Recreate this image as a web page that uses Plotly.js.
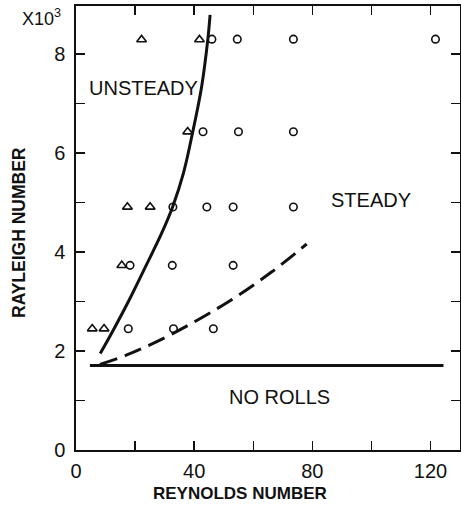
<!DOCTYPE html>
<html>
<head>
<meta charset="utf-8">
<script src="https://cdn.plot.ly/plotly-3.0.1.min.js"></script>
<style>html,body{margin:0;padding:0;background:#fff;}#chart{width:461px;height:506px;}</style>
</head>
<body>
<div id="chart"></div>
<script>
// Steady (open circles)
const steadyRe = [46, 54.6, 73.6, 121.7, 43, 55, 73.6, 32.8, 44.3, 53.2, 73.6, 18.3, 32.6, 53.2, 17.7, 33, 46.5];
const steadyRa = [8300, 8300, 8300, 8300, 6430, 6430, 6430, 4910, 4910, 4910, 4910, 3730, 3730, 3730, 2450, 2450, 2450];
// Unsteady (open triangles)
const unsteadyRe = [22.2, 41.8, 37.8, 17.4, 25.1, 15.5, 5.5, 9.5];
const unsteadyRa = [8290, 8290, 6430, 4910, 4910, 3730, 2450, 2450];
// Solid boundary curve (steady / unsteady)
const boundRe = [8.2, 12.6, 18.0, 24.0, 29.0, 32.7, 36.4, 39.5, 42.5, 44.6, 45.4];
const boundRa = [1950, 2420, 3030, 3760, 4380, 4910, 5600, 6420, 7330, 8280, 8790];
// Dashed curve
const dashRe = [8.1, 17.2, 32.4, 51.6, 66.3, 78.1];
const dashRa = [1730, 1920, 2340, 2996, 3600, 4162];
// Critical Rayleigh number line (no rolls)
const critRe = [4.7, 124.4];
const critRa = [1708, 1708];
// Ticks
const xTickVals = [0, 40, 80, 120];
const xTickText = ['0', '40', '80', '120'];
const yTickVals = [0, 2000, 4000, 6000, 8000];
const yTickText = ['0', '2', '4', '6', '8'];
// Region labels
const regionText = ['UNSTEADY', 'STEADY', 'NO ROLLS'];
const regionRe = [22.7, 100, 68.8];
const regionRa = [7313, 5050, 1070];

const FONT = 'Liberation Sans, Arial, Helvetica, sans-serif';
const INK = '#111';

const traces = [
  {x: critRe, y: critRa, mode: 'lines', line: {color: INK, width: 3}, hoverinfo: 'skip'},
  {x: boundRe, y: boundRa, mode: 'lines', line: {color: INK, width: 3, shape: 'spline', smoothing: 1}, hoverinfo: 'skip'},
  {x: dashRe, y: dashRa, mode: 'lines', line: {color: INK, width: 3, shape: 'spline', dash: '18px,8px'}, hoverinfo: 'skip'},
  {x: steadyRe, y: steadyRa, mode: 'markers', marker: {symbol: 'circle-open', size: 7.5, color: INK, line: {width: 1.6, color: INK}}},
  {x: unsteadyRe, y: unsteadyRa, mode: 'markers', marker: {symbol: 'triangle-up-open', size: 8.5, color: INK, line: {width: 1.6, color: INK}}}
];

const annotations = regionText.map((t, i) => ({
  x: regionRe[i], y: regionRa[i], xref: 'x', yref: 'y', text: t, showarrow: false,
  font: {family: FONT, size: 20, color: INK}, xanchor: 'center', yanchor: 'middle'
}));
annotations.push({
  x: -0.091, y: 0.975, xref: 'paper', yref: 'paper', text: 'X10<sup>3</sup>', showarrow: false,
  font: {family: FONT, size: 18, color: INK}, xanchor: 'center', yanchor: 'middle'
});
// Axis titles (placed as in the reference)
annotations.push({
  x: (240 - 76) / 384, y: -(493 - 450) / 444, xref: 'paper', yref: 'paper',
  text: '<b>REYNOLDS NUMBER</b>', showarrow: false,
  font: {family: FONT, size: 17, color: INK}, xanchor: 'center', yanchor: 'middle'
});
annotations.push({
  x: -(76 - 19) / 384, y: (450 - 233) / 444, xref: 'paper', yref: 'paper',
  text: '<b>RAYLEIGH NUMBER</b>', showarrow: false, textangle: -90,
  font: {family: FONT, size: 17.5, color: INK}, xanchor: 'center', yanchor: 'middle'
});

const axisCommon = {
  showgrid: false, zeroline: false, showline: true, linecolor: INK, linewidth: 1.6,
  mirror: 'ticks', ticks: 'inside', ticklen: 9, tickwidth: 1.4, tickcolor: INK,
  tickfont: {family: FONT, size: 20, color: INK}, tickmode: 'array'
};

const layout = {
  width: 461, height: 506,
  margin: {l: 76, r: 1, t: 6, b: 56},
  paper_bgcolor: '#fff', plot_bgcolor: '#fff',
  showlegend: false,
  xaxis: Object.assign({}, axisCommon, {
    range: [0, 130], tickvals: xTickVals, ticktext: xTickText, ticklabelstandoff: 2,
    minor: {dtick: 20, tick0: 0, ticks: 'inside', ticklen: 9, tickwidth: 1.4, tickcolor: INK, showgrid: false}
  }),
  yaxis: Object.assign({}, axisCommon, {
    range: [0, 8970], tickvals: yTickVals, ticktext: yTickText, ticklabelstandoff: 5,
    minor: {dtick: 1000, tick0: 0, ticks: 'inside', ticklen: 9, tickwidth: 1.4, tickcolor: INK, showgrid: false}
  }),
  annotations: annotations
};

Plotly.newPlot('chart', traces, layout, {staticPlot: true, displayModeBar: false});
</script>
</body>
</html>
